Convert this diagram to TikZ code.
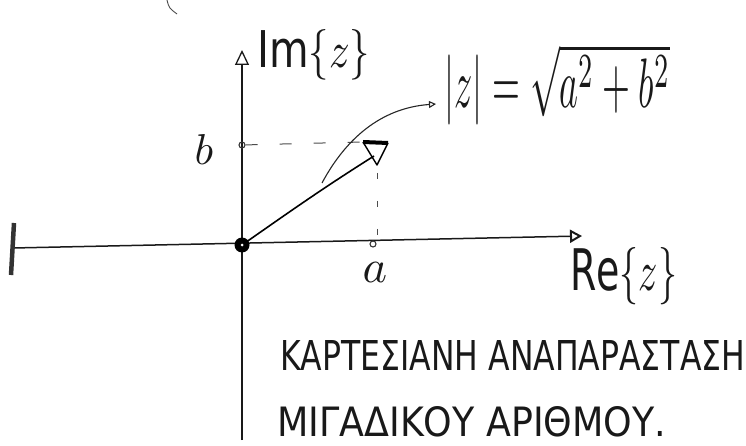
\documentclass[tikz,border=0pt]{standalone}
\usepackage{fontspec}
\setmainfont{DejaVu Sans}
\usetikzlibrary{arrows.meta}
\tikzset{
  axisline/.style={line width=1.5pt, black!90},
  guide/.style={line width=1pt, black!70, dash pattern=on 12pt off 22pt},
  vguide/.style={line width=1pt, black!70, dash pattern=on 6pt off 22pt},
  lbl/.style={inner sep=0pt, text=black!90},
  tick/.style={circle, draw=black!80, line width=1.1pt, inner sep=0pt, minimum size=6pt}
}
\begin{document}
\begin{tikzpicture}[x=1pt,y=-1pt]
\useasboundingbox (0,0) rectangle (746,446);
% key points
\coordinate (O) at (242,245);
\coordinate (Ytop) at (242,50);
\coordinate (Ybot) at (242,440);
\coordinate (Xleft) at (13,248);
\coordinate (Xright) at (582,236);
\coordinate (P) at (374,156);
\coordinate (H1) at (363,142);
\coordinate (H2) at (388,143);
\coordinate (H3) at (377,165);
\coordinate (LbarT) at (14,223);
\coordinate (LbarB) at (11,275);
\coordinate (Cs) at (322,183);
\coordinate (Ce) at (436,104);
\coordinate (S1) at (167,0);
\coordinate (S2) at (177,14);
% stray mark
\draw[line width=0.9pt, black!70] (S1) .. controls (169,8) .. (S2);
% axes
\draw[axisline] (Ybot) -- (242,66);
\draw[line width=1.3pt, black!90, -{Triangle[open, length=15pt, width=14pt]}] (242,68) -- (Ytop);
\draw[axisline, -{Triangle[open, length=12pt, width=13pt, line width=2pt]}] (Xleft) -- (Xright);
\draw[line width=4.5pt, black!80] (LbarT) -- (LbarB);
% ticks
\node[tick] (B) at (242,145) {};
\node[tick] (A) at (373,244) {};
% dashed guides
\draw[guide] (B) -- (H1);
\draw[vguide] (H3) ++(0,8) -- (377,240);
% vector with hand-drawn head
\draw[line width=1.6pt, black] (O) .. controls (285,215) and (320,190) .. (P);
\draw[line width=1.4pt, black, line join=round] (H1) -- (H3) -- (H2);
\draw[line width=4pt, black] (H1) -- (H2);
% origin dot
\node[circle, fill=black, inner sep=0pt, minimum size=15pt] (Odot) at (O) {};
\node[circle, fill=white, inner sep=0pt, minimum size=3pt] at (O) {};
% curved arrow to formula
\draw[line width=1.1pt, black!85, -{Triangle[open, length=7pt, width=7pt]}] (Cs) .. controls (345,140) and (380,108) .. (Ce);
% labels
\node[lbl, anchor=base west] (Im) at (257,68) {\resizebox{113pt}{38pt}{$\mathrm{Im}\{z\}$}};
\node[lbl, anchor=base west] (Re) at (570,290) {\resizebox{107pt}{43pt}{$\mathrm{Re}\{z\}$}};
\node[lbl] (bl) at (204,149) {\resizebox{!}{30pt}{$b$}};
\node[lbl, anchor=base] (al) at (375,282) {\resizebox{!}{20pt}{$a$}};
\node[lbl, anchor=base west] (F) at (444,108) {\resizebox{226pt}{64pt}{$|z|=\sqrt{a^2+b^2}$}};
\node[lbl, anchor=base west] (T1) at (280,370) {\resizebox{465pt}{30pt}{ΚΑΡΤΕΣΙΑΝΗ ΑΝΑΠΑΡΑΣΤΑΣΗ}};
\node[lbl, anchor=base west] (T2) at (277,436) {\resizebox{389pt}{30pt}{ΜΙΓΑΔΙΚΟΥ ΑΡΙΘΜΟΥ.}};
\end{tikzpicture}
\end{document}
